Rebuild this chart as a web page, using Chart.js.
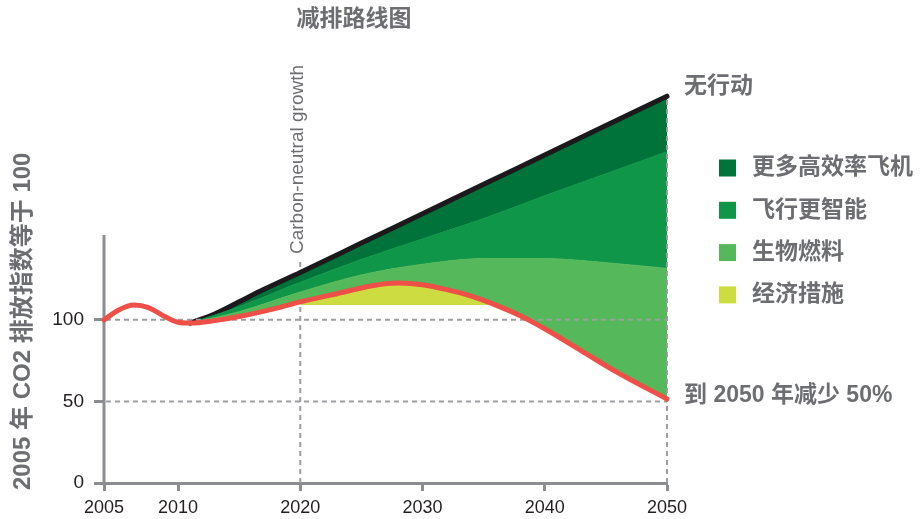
<!DOCTYPE html>
<html>
<head>
<meta charset="utf-8">
<script src="https://cdn.jsdelivr.net/npm/chart.js@4.4.0/dist/chart.umd.min.js"></script>
<style>
  html, body { margin: 0; padding: 0; background: #fff; }
</style>
</head>
<body>
<canvas id="myChart" width="920" height="519"></canvas>
<script>
// ---- data ----
var chartTitle   = '减排路线图';
var yTitle       = '2005 年 CO2 排放指数等于 100';
var markerLabel  = 'Carbon-neutral growth';
var noActionText = '无行动';
var targetText   = '到 2050 年减少 50%';
var legendLabels = ['更多高效率飞机', '飞行更智能', '生物燃料', '经济措施'];

var xTicks = [2005, 2010, 2020, 2030, 2040, 2050];
var yTicks = [0, 50, 100];
var yGrid  = [50, 100];
var markerYear = 2020;

// red line: 50% reduction target
var redYears = [2005, 2006, 2007, 2008, 2009, 2010, 2011, 2013, 2015, 2018, 2020, 2023, 2026, 2028, 2030, 2032, 2034, 2036, 2038, 2040, 2043, 2046, 2050];
var redVals  = [100, 106, 109, 107.5, 102.5, 98.5, 98, 99.5, 102, 107, 111, 116, 121, 122.5, 121.5, 118.5, 114.5, 109, 102.5, 94.5, 81, 67.5, 51.5];

// top of the biofuel (light green) wedge
var bioYears = [2011, 2015, 2020, 2025, 2030, 2035, 2040, 2045, 2050];
var bioVals  = [98, 105, 117, 127.5, 134, 137.5, 137.5, 135, 131.5];

// top of the smarter flying (green) wedge
var smartYears = [2011, 2015, 2020, 2025, 2030, 2035, 2040, 2045, 2050];
var smartVals  = [98, 108, 123, 137, 149.5, 162, 176, 189.5, 203];

// black line: no action
var noActYears = [2011, 2013, 2015, 2017, 2020, 2025, 2030, 2035, 2040, 2045, 2050];
var noActVals  = [98, 103.5, 111, 118.5, 129, 147, 165, 183, 201, 219, 237];

// yellow wedge (economic measures) above the flat carbon-neutral line
var econYears = [2020, 2023, 2026, 2028, 2030, 2032, 2034, 2036];
var econVals  = [111, 116, 121, 122.5, 121.5, 118.5, 114.5, 109];
var econBase  = 109;

// ---- styles ----
var FAMILY = "'Liberation Sans', 'Noto Sans CJK SC', sans-serif";
var RED = '#ee4f47', BLACK = '#1c191c';
var DGREEN = '#00733b', GREEN = '#0f9648', LGREEN = '#55b85b', YELLOW = '#cddc40';
var legendColors = [DGREEN, GREEN, LGREEN, YELLOW];
var AXIS = '#8b8d90', DASH = '#9c9ea1', LABEL = '#6d6e71', TICK = '#231f20';

// x axis in the original is stretched between 2005 and 2010
var xBreaks = [2005, 2010, 2050];
var xBreakPos = [0, 74 / 563, 1];
function yearToDec(v) {
  for (var i = 1; i < xBreaks.length; i++) {
    if (v <= xBreaks[i] || i === xBreaks.length - 1) {
      var a = xBreaks[i - 1], b = xBreaks[i];
      return xBreakPos[i - 1] + (v - a) / (b - a) * (xBreakPos[i] - xBreakPos[i - 1]);
    }
  }
}
function decToYear(d) {
  for (var i = 1; i < xBreakPos.length; i++) {
    if (d <= xBreakPos[i] || i === xBreakPos.length - 1) {
      var a = xBreakPos[i - 1], b = xBreakPos[i];
      return xBreaks[i - 1] + (d - a) / (b - a) * (xBreaks[i] - xBreaks[i - 1]);
    }
  }
}
class WarpScale extends Chart.LinearScale {
  getPixelForValue(v) { return this.getPixelForDecimal(yearToDec(v)); }
  getValueForPixel(p) { return decToYear(this.getDecimalForPixel(p)); }
}
WarpScale.id = 'warp';
WarpScale.defaults = Chart.LinearScale.defaults;
Chart.register(WarpScale);

function pts(xs, ys) {
  return xs.map(function (x, i) { return {x: x, y: ys[i]}; });
}

function dashLine(ctx, x1, y1, x2, y2) {
  ctx.save();
  ctx.strokeStyle = DASH;
  ctx.lineWidth = 2;
  ctx.setLineDash([5, 4]);
  ctx.beginPath();
  ctx.moveTo(x1, y1);
  ctx.lineTo(x2, y2);
  ctx.stroke();
  ctx.restore();
}

var decor = {
  id: 'decor',
  beforeDatasetsDraw: function (chart) {
    var ctx = chart.ctx, xs = chart.scales.x, ys = chart.scales.y;
    // marker line at 2020 (behind the wedges)
    var px = xs.getPixelForValue(markerYear);
    dashLine(ctx, px, ys.getPixelForValue(0), px, ys.getPixelForValue(135.5));
    // y axis line, shorter than the plot
    ctx.save();
    ctx.strokeStyle = AXIS;
    ctx.lineWidth = 3;
    ctx.beginPath();
    ctx.moveTo(chart.chartArea.left, ys.getPixelForValue(0));
    ctx.lineTo(chart.chartArea.left, ys.getPixelForValue(152));
    ctx.stroke();
    ctx.restore();
  },
  beforeDatasetDraw: function (chart, args) {
    if (args.index !== 0) return;
    var ctx = chart.ctx, xs = chart.scales.x, ys = chart.scales.y;
    var left = xs.getPixelForValue(2005), right = xs.getPixelForValue(2050);
    yGrid.forEach(function (v) {
      var py = ys.getPixelForValue(v);
      dashLine(ctx, left + 2, py, right, py);
    });
    dashLine(ctx, right, ys.getPixelForValue(0), right, ys.getPixelForValue(noActVals[noActVals.length - 1]));
  },
  afterDraw: function (chart) {
    var ctx = chart.ctx, xs = chart.scales.x, ys = chart.scales.y;
    ctx.save();
    ctx.fillStyle = LABEL;
    ctx.textBaseline = 'middle';

    ctx.font = 'bold 23px ' + FAMILY;
    ctx.textAlign = 'center';
    ctx.fillText(chartTitle, 354, 20);

    // y axis title
    ctx.save();
    ctx.translate(23, 490);
    ctx.rotate(-Math.PI / 2);
    ctx.textAlign = 'left';
    ctx.font = 'bold 24px ' + FAMILY;
    ctx.fillText(yTitle, 0, 0);
    ctx.restore();

    // carbon-neutral marker text
    ctx.save();
    ctx.translate(xs.getPixelForValue(markerYear) - 2, 254);
    ctx.rotate(-Math.PI / 2);
    ctx.textAlign = 'left';
    ctx.font = '19px ' + FAMILY;
    ctx.fillText(markerLabel, 0, 0);
    ctx.restore();

    // end labels
    var endX = xs.getPixelForValue(2050) + 17;
    ctx.textAlign = 'left';
    ctx.fillText(noActionText, endX, ys.getPixelForValue(noActVals[noActVals.length - 1]) - 10);
    ctx.fillText(targetText, endX, ys.getPixelForValue(redVals[redVals.length - 1]) - 3);

    // legend
    legendLabels.forEach(function (lab, i) {
      var cy = 168 + i * 42.3;
      ctx.fillStyle = legendColors[i];
      ctx.fillRect(719, cy - 8.5, 17, 17);
      ctx.fillStyle = LABEL;
      ctx.fillText(lab, 752, cy);
    });
    ctx.restore();
  }
};

Chart.defaults.font.family = FAMILY;

new Chart('myChart', {
  type: 'line',
  data: {
    datasets: [
      {
        label: 'target',
        data: pts(redYears, redVals),
        borderColor: RED,
        borderWidth: 5,
        borderCapStyle: 'round',
        fill: false,
        clip: 8
      },
      {
        label: legendLabels[2],
        data: pts(bioYears, bioVals),
        borderColor: LGREEN,
        borderWidth: 1,
        backgroundColor: LGREEN,
        fill: '-1'
      },
      {
        label: legendLabels[1],
        data: pts(smartYears, smartVals),
        borderColor: GREEN,
        borderWidth: 1,
        backgroundColor: GREEN,
        fill: '-1'
      },
      {
        label: legendLabels[0],
        data: pts(noActYears, noActVals),
        borderColor: BLACK,
        borderWidth: 5,
        borderCapStyle: 'round',
        backgroundColor: DGREEN,
        fill: '-1',
        clip: 8
      },
      {
        label: legendLabels[3],
        data: pts(econYears, econVals),
        borderWidth: 0,
        borderColor: YELLOW,
        backgroundColor: YELLOW,
        fill: {value: econBase}
      }
    ]
  },
  options: {
    responsive: false,
    animation: false,
    devicePixelRatio: 1,
    events: [],
    elements: {
      point: {radius: 0},
      line: {cubicInterpolationMode: 'monotone'}
    },
    layout: {padding: {top: 75, right: 253, left: 0, bottom: 0}},
    plugins: {
      legend: {display: false},
      tooltip: {enabled: false},
      title: {display: false}
    },
    scales: {
      x: {
        type: 'warp',
        min: 2005,
        max: 2050,
        afterBuildTicks: function (s) { s.ticks = xTicks.map(function (v) { return {value: v}; }); },
        afterFit: function (s) { s.height = 36; },
        ticks: {
          autoSkip: false,
          maxRotation: 0,
          padding: 6,
          color: TICK,
          font: {size: 18},
          callback: function (v) { return String(v); }
        },
        grid: {
          drawOnChartArea: false,
          drawTicks: true,
          tickLength: 8,
          tickWidth: 3,
          tickColor: AXIS
        },
        border: {display: true, color: AXIS, width: 3}
      },
      y: {
        min: 0,
        max: 250,
        afterBuildTicks: function (s) { s.ticks = yTicks.map(function (v) { return {value: v}; }); },
        afterFit: function (s) { s.width = 104; },
        ticks: {
          padding: 10,
          color: TICK,
          font: {size: 19},
          callback: function (v) { return String(v); }
        },
        grid: {
          drawOnChartArea: false,
          drawTicks: true,
          tickLength: 10,
          tickWidth: 3,
          tickColor: AXIS
        },
        border: {display: false}
      }
    }
  },
  plugins: [decor]
});
</script>
</body>
</html>
